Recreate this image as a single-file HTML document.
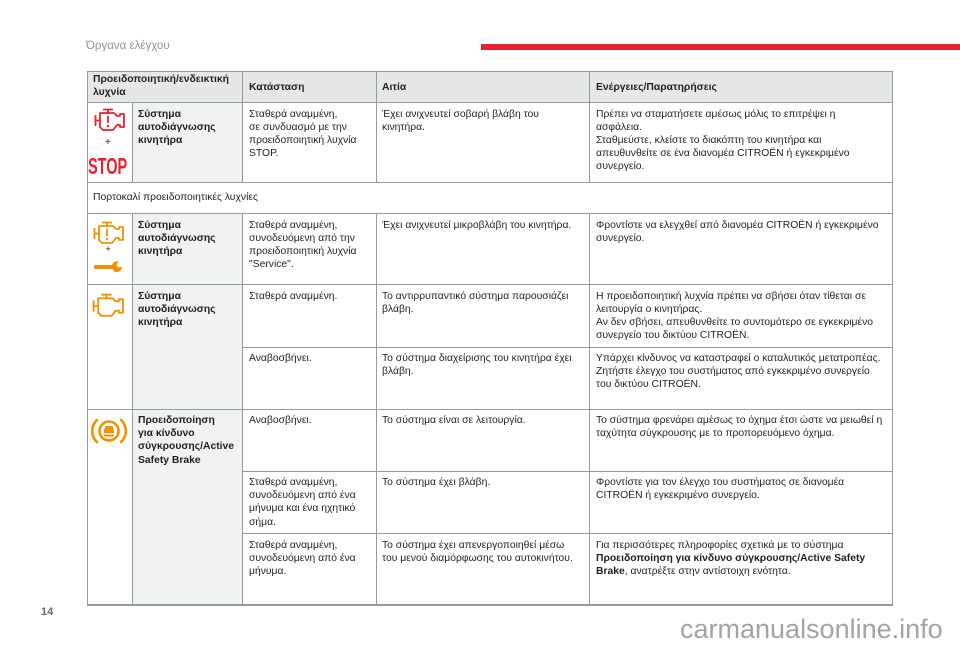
<!DOCTYPE html>
<html><head><meta charset="utf-8">
<style>
html,body{margin:0;padding:0;background:#fff;}
body{width:960px;height:649px;position:relative;overflow:hidden;font-family:"Liberation Sans","DejaVu Sans",sans-serif;color:#231f20;}
.t{position:absolute;font-size:10.35px;line-height:13.2px;white-space:nowrap;}
.b{font-weight:bold;}
.hl{position:absolute;height:1px;background:#939c9c;}
.vl{position:absolute;width:1px;background:#939c9c;}
.bg{position:absolute;}
</style></head><body>

<div class="t" style="left:86px;top:39px;font-size:11.5px;line-height:14px;color:#8a9898;">Όργανα ελέγχου</div>
<div style="position:absolute;left:481px;top:44px;width:479px;height:6px;background:#e8222e;"></div>

<!-- backgrounds -->
<div class="bg" style="left:87px;top:71px;width:805px;height:31px;background:#e6e8e8;"></div>
<div class="bg" style="left:132px;top:102px;width:110px;height:80px;background:#f1f2f2;"></div>
<div class="bg" style="left:132px;top:213px;width:110px;height:391px;background:#f1f2f2;"></div>

<!-- horizontal lines -->
<div class="hl" style="left:87px;top:71px;width:806px;"></div>
<div class="hl" style="left:87px;top:102px;width:806px;"></div>
<div class="hl" style="left:87px;top:182px;width:806px;"></div>
<div class="hl" style="left:87px;top:213px;width:806px;"></div>
<div class="hl" style="left:87px;top:284px;width:806px;"></div>
<div class="hl" style="left:87px;top:409px;width:806px;"></div>
<div class="hl" style="left:87px;top:604px;width:806px;height:1.5px;"></div>
<div class="hl" style="left:242px;top:347px;width:650px;"></div>
<div class="hl" style="left:242px;top:471px;width:650px;"></div>
<div class="hl" style="left:242px;top:533px;width:650px;"></div>

<!-- vertical lines -->
<div class="vl" style="left:87px;top:71px;height:534px;"></div>
<div class="vl" style="left:892px;top:71px;height:534px;"></div>
<div class="vl" style="left:132px;top:102px;height:80px;"></div>
<div class="vl" style="left:132px;top:213px;height:391px;"></div>
<div class="vl" style="left:242px;top:71px;height:111px;"></div>
<div class="vl" style="left:242px;top:213px;height:391px;"></div>
<div class="vl" style="left:376px;top:71px;height:111px;"></div>
<div class="vl" style="left:376px;top:213px;height:391px;"></div>
<div class="vl" style="left:589px;top:71px;height:111px;"></div>
<div class="vl" style="left:589px;top:213px;height:391px;"></div>

<!-- header -->
<div class="t b" style="left:93px;top:74px;line-height:12.5px;">Προειδοποιητική/ενδεικτική<br>λυχνία</div>
<div class="t b" style="left:249px;top:80.5px;">Κατάσταση</div>
<div class="t b" style="left:382px;top:80.5px;">Αιτία</div>
<div class="t b" style="left:596px;top:80.5px;">Ενέργειες/Παρατηρήσεις</div>

<!-- row 1 -->
<div class="t b" style="left:138px;top:107.5px;">Σύστημα<br>αυτοδιάγνωσης<br>κινητήρα</div>
<div class="t" style="left:249px;top:107.5px;">Σταθερά αναμμένη,<br>σε συνδυασμό με την<br>προειδοποιητική λυχνία<br>STOP.</div>
<div class="t" style="left:382px;top:107.5px;">Έχει ανιχνευτεί σοβαρή βλάβη του<br>κινητήρα.</div>
<div class="t" style="left:596px;top:107.5px;">Πρέπει να σταματήσετε αμέσως μόλις το επιτρέψει η<br>ασφάλεια.<br>Σταθμεύστε, κλείστε το διακόπτη του κινητήρα και<br>απευθυνθείτε σε ένα διανομέα CITROËN ή εγκεκριμένο<br>συνεργείο.</div>

<svg style="position:absolute;left:94px;top:108px;" width="32" height="25" viewBox="0 0 32 25">
 <g fill="none" stroke="#e8222e" stroke-width="1.8" stroke-linejoin="round">
  <path d="M9 1.5H19M14 1.5V5"/>
  <path d="M6 5H20L23 8H26V6H30V19H26V17H23L19 22H9L6 19Z"/>
  <path d="M1.5 7V18M1.5 12.5H6"/>
  <path d="M14 8V15"/>
 </g>
 <circle cx="14" cy="18" r="1.2" fill="#e8222e"/>
</svg>
<div class="t" style="left:105px;top:136px;font-size:10px;">+</div>
<div style="position:absolute;left:88px;top:153px;font-size:23px;line-height:26px;font-weight:bold;color:#e8222e;transform:scaleX(0.63);transform-origin:0 0;white-space:nowrap;">STOP</div>

<!-- section row -->
<div class="t" style="left:93px;top:191px;">Πορτοκαλί προειδοποιητικές λυχνίες</div>

<!-- row 3 -->
<div class="t b" style="left:138px;top:218.5px;">Σύστημα<br>αυτοδιάγνωσης<br>κινητήρα</div>
<div class="t" style="left:249px;top:218.5px;">Σταθερά αναμμένη,<br>συνοδευόμενη από την<br>προειδοποιητική λυχνία<br>"Service".</div>
<div class="t" style="left:382px;top:218.5px;">Έχει ανιχνευτεί μικροβλάβη του κινητήρα.</div>
<div class="t" style="left:596px;top:218.5px;">Φροντίστε να ελεγχθεί από διανομέα CITROËN ή εγκεκριμένο<br>συνεργείο.</div>

<svg style="position:absolute;left:93px;top:221px;" width="32" height="25" viewBox="0 0 32 25">
 <g fill="none" stroke="#f39200" stroke-width="1.8" stroke-linejoin="round">
  <path d="M9 1.5H19M14 1.5V5"/>
  <path d="M6 5H20L23 8H26V6H30V19H26V17H23L19 22H9L6 19Z"/>
  <path d="M1.5 7V18M1.5 12.5H6"/>
  <path d="M14 8V15"/>
 </g>
 <circle cx="14" cy="18" r="1.2" fill="#f39200"/>
</svg>
<div class="t" style="left:105.5px;top:243px;font-size:9px;">+</div>
<svg style="position:absolute;left:93px;top:260px;" width="32" height="14" viewBox="0 0 32 14">
 <path d="M2 5H19C20 2 23 1 26 1.5L23.5 4.5L25 7.5L29 6.5C29 10 26 12.5 22.5 12C21 11.5 20 10 19.5 9H2C0.5 9 0.5 5 2 5Z" fill="#f39200"/>
</svg>

<!-- row 4 -->
<div class="t b" style="left:138px;top:289.5px;">Σύστημα<br>αυτοδιάγνωσης<br>κινητήρα</div>
<div class="t" style="left:249px;top:289.5px;">Σταθερά αναμμένη.</div>
<div class="t" style="left:382px;top:289.5px;">Το αντιρρυπαντικό σύστημα παρουσιάζει<br>βλάβη.</div>
<div class="t" style="left:596px;top:289.5px;">Η προειδοποιητική λυχνία πρέπει να σβήσει όταν τίθεται σε<br>λειτουργία ο κινητήρας.<br>Αν δεν σβήσει, απευθυνθείτε το συντομότερο σε εγκεκριμένο<br>συνεργείο του δικτύου CITROËN.</div>
<div class="t" style="left:249px;top:352px;">Αναβοσβήνει.</div>
<div class="t" style="left:382px;top:352px;">Το σύστημα διαχείρισης του κινητήρα έχει<br>βλάβη.</div>
<div class="t" style="left:596px;top:352px;">Υπάρχει κίνδυνος να καταστραφεί ο καταλυτικός μετατροπέας.<br>Ζητήστε έλεγχο του συστήματος από εγκεκριμένο συνεργείο<br>του δικτύου CITROËN.</div>

<svg style="position:absolute;left:92px;top:292px;" width="33" height="28" viewBox="0 0 32 25">
 <g fill="none" stroke="#f39200" stroke-width="1.8" stroke-linejoin="round">
  <path d="M9 1.5H19M14 1.5V5"/>
  <path d="M6 5H20L23 8H26V6H30V19H26V17H23L19 22H9L6 19Z"/>
  <path d="M1.5 7V18M1.5 12.5H6"/>
 </g>
</svg>

<!-- row 5 -->
<div class="t b" style="left:138px;top:414px;">Προειδοποίηση<br>για κίνδυνο<br>σύγκρουσης/Active<br>Safety Brake</div>
<div class="t" style="left:249px;top:414px;">Αναβοσβήνει.</div>
<div class="t" style="left:382px;top:414px;">Το σύστημα είναι σε λειτουργία.</div>
<div class="t" style="left:596px;top:414px;">Το σύστημα φρενάρει αμέσως το όχημα έτσι ώστε να μειωθεί η<br>ταχύτητα σύγκρουσης με το προπορευόμενο όχημα.</div>
<div class="t" style="left:249px;top:476px;">Σταθερά αναμμένη,<br>συνοδευόμενη από ένα<br>μήνυμα και ένα ηχητικό<br>σήμα.</div>
<div class="t" style="left:382px;top:476px;">Το σύστημα έχει βλάβη.</div>
<div class="t" style="left:596px;top:476px;">Φροντίστε για τον έλεγχο του συστήματος σε διανομέα<br>CITROËN ή εγκεκριμένο συνεργείο.</div>
<div class="t" style="left:249px;top:538.5px;">Σταθερά αναμμένη,<br>συνοδευόμενη από ένα<br>μήνυμα.</div>
<div class="t" style="left:382px;top:538.5px;">Το σύστημα έχει απενεργοποιηθεί μέσω<br>του μενού διαμόρφωσης του αυτοκινήτου.</div>
<div class="t" style="left:596px;top:538.5px;">Για περισσότερες πληροφορίες σχετικά με το σύστημα<br><b>Προειδοποίηση για κίνδυνο σύγκρουσης/Active Safety</b><br><b>Brake</b>, ανατρέξτε στην αντίστοιχη ενότητα.</div>

<svg style="position:absolute;left:91px;top:415px;" width="36" height="32" viewBox="0 0 36 32">
 <g fill="none" stroke="#f39200" stroke-width="2.6" stroke-linecap="round">
  <circle cx="18" cy="16" r="9.5"/>
  <path d="M6 5A15 15 0 0 0 6 27"/>
  <path d="M30 5A15 15 0 0 1 30 27"/>
 </g>
 <path d="M13 15L14.5 11H21.5L23 15V18H13Z" fill="#f39200"/>
 <rect x="13" y="19.5" width="10" height="2" fill="#f39200"/>
</svg>

<!-- footer -->
<div style="position:absolute;left:41px;top:605px;font-size:11px;line-height:14px;font-weight:bold;color:#5d6b6b;">14</div>
<div style="position:absolute;left:680px;top:614px;font-size:27px;line-height:30px;color:#a3a3a3;white-space:nowrap;">carmanualsonline.info</div>

</body></html>
